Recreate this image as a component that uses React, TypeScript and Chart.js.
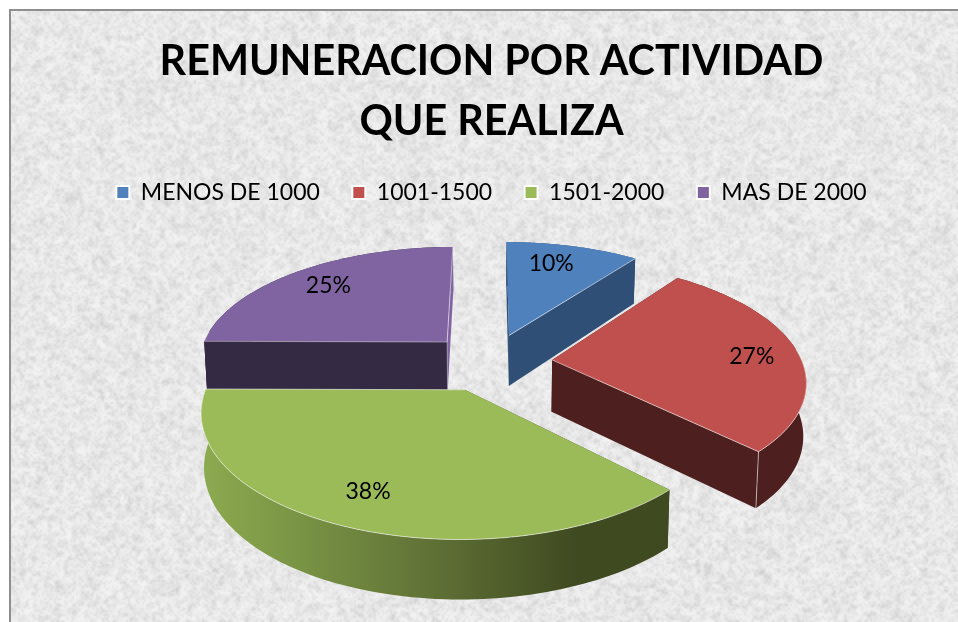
import React, { useEffect, useRef } from "react";
import { Chart, registerables } from "chart.js";

Chart.register(...registerables);

const titleLines = ["REMUNERACION POR ACTIVIDAD", "QUE REALIZA"];
const categories = ["MENOS DE 1000", "1001-1500", "1501-2000", "MAS DE 2000"];
const shares = [10.2, 27.3, 37.6, 24.9];
const topColors = ["#4f81bd", "#c0504d", "#9bbb59", "#8064a2"];
const wallColors = ["#2f4f77", "#4d1f1e", "#3f4a21", "#352a44"];

const W = 958;
const H = 622;
// ground-plane perspective used for the 3-D look
const CX = 490;
const CY = 362;
const SX = 250;
const SY = 116;
const PERSP = 0.159;
const EXPLODE = 0.25;
const LABEL_R = 0.78;
const labelNudgeX = [-9, 8, -5, 1];
const labelNudgeY = [0, 3, 0, 0];

function project(X: number, Y: number, low: boolean) {
  const s = 1 / (1 - PERSP * Y);
  let x = CX + SX * X * s;
  let y = CY + SY * Y * s;
  if (low) {
    x = CX + (x - CX) * 0.99;
    y += 52 + 6.5 * Y;
  }
  return [x, y];
}

function makeTexture(w: number, h: number) {
  const c = document.createElement("canvas");
  c.width = w;
  c.height = h;
  const g = c.getContext("2d")!;
  g.fillStyle = "#efefef";
  g.fillRect(0, 0, w, h);
  let seed = 12345;
  const next = () => {
    seed = (seed * 1664525 + 1013904223) >>> 0;
    return seed / 4294967296;
  };
  const layers = [
    [9, 14],
    [4, 30],
    [2, 24],
  ];
  for (const [scale, amp] of layers) {
    const sw = Math.ceil(w / scale);
    const sh = Math.ceil(h / scale);
    const sc = document.createElement("canvas");
    sc.width = sw;
    sc.height = sh;
    const sg = sc.getContext("2d")!;
    const img = sg.createImageData(sw, sh);
    for (let i = 0; i < sw * sh; i++) {
      const v = next() - 0.5;
      const u = v > 0 ? 255 : 90;
      img.data[i * 4] = u;
      img.data[i * 4 + 1] = u;
      img.data[i * 4 + 2] = u;
      img.data[i * 4 + 3] = Math.abs(v) * 2 * amp * (v > 0 ? 1.4 : 1);
    }
    sg.putImageData(img, 0, 0);
    g.imageSmoothingEnabled = true;
    g.imageSmoothingQuality = "high";
    g.drawImage(sc, 0, 0, sw * scale, sh * scale);
  }
  return c;
}

const backdrop = {
  id: "backdrop",
  beforeDraw(chart: any) {
    const ctx = chart.ctx;
    ctx.save();
    ctx.fillStyle = "#ffffff";
    ctx.fillRect(0, 0, W, H);
    ctx.drawImage(makeTexture(W, H), 11, 11, W - 11, H - 11, 11, 11, W - 11, H - 11);
    ctx.fillStyle = "#8e8e8e";
    ctx.fillRect(9, 9, W - 9, 2);
    ctx.fillRect(9, 9, 2, H - 9);
    ctx.restore();
  },
};

const pie3d = {
  id: "pie3d",
  beforeDatasetDraw() {
    return false;
  },
  afterDatasetsDraw(chart: any) {
    const ctx = chart.ctx;
    const arcs = chart.getDatasetMeta(0).data;
    const slices = arcs.map((arc: any, i: number) => {
      const t0 = arc.startAngle + Math.PI / 2;
      const t1 = arc.endAngle + Math.PI / 2;
      const mid = (t0 + t1) / 2;
      return {
        i,
        t0,
        t1,
        mid,
        ax: EXPLODE * Math.sin(mid),
        ay: -EXPLODE * Math.cos(mid),
      };
    });
    const order = [...slices].sort((a: any, b: any) => a.ay - b.ay);

    const poly = (pts: number[][]) => {
      ctx.beginPath();
      pts.forEach((p, k) => (k ? ctx.lineTo(p[0], p[1]) : ctx.moveTo(p[0], p[1])));
      ctx.closePath();
    };
    const line = (pts: number[][]) => {
      ctx.beginPath();
      pts.forEach((p, k) => (k ? ctx.lineTo(p[0], p[1]) : ctx.moveTo(p[0], p[1])));
      ctx.stroke();
    };

    ctx.save();
    ctx.lineJoin = "round";
    for (const s of order) {
      const rim = (t: number, low: boolean) =>
        project(s.ax + Math.sin(t), s.ay - Math.cos(t), low);
      const apex = (low: boolean) => project(s.ax, s.ay, low);
      const n = 90;
      const upper: number[][] = [];
      const lower: number[][] = [];
      const ts: number[] = [];
      for (let k = 0; k <= n; k++) {
        const t = s.t0 + ((s.t1 - s.t0) * k) / n;
        ts.push(t);
        upper.push(rim(t, false));
        lower.push(rim(t, true));
      }
      let wall: any = wallColors[s.i];
      if (s.i === 2) {
        const g = ctx.createLinearGradient(200, 0, 670, 0);
        g.addColorStop(0, "#8dab50");
        g.addColorStop(0.2, "#7a9545");
        g.addColorStop(0.5, "#5f7035");
        g.addColorStop(0.8, "#3f4a20");
        g.addColorStop(1, "#3f4a21");
        wall = g;
      }
      ctx.fillStyle = wall;
      poly([apex(false), upper[0], lower[0], apex(true)]);
      ctx.fill();
      poly([...upper, ...[...lower].reverse()]);
      ctx.fill();
      ctx.fillStyle = s.i === 3 ? topColors[3] : wall;
      poly([apex(false), upper[n], lower[n], apex(true)]);
      ctx.fill();
      if (s.i === 3) {
        ctx.fillStyle = wallColors[3];
        poly([apex(false), rim(s.t0, false), rim(s.t0, true), apex(true)]);
        ctx.fill();
      }

      ctx.fillStyle = topColors[s.i];
      poly([apex(false), ...upper]);
      ctx.fill();

      ctx.strokeStyle = "rgba(255,255,255,0.55)";
      ctx.lineWidth = 1;
      line([apex(false), upper[n]]);
      const front = upper.filter((_, k) => Math.cos(ts[k]) < 0.1);
      if (front.length > 1) line(front);
      if (s.i === 3) {
        ctx.strokeStyle = "rgba(190,190,200,0.6)";
        line([apex(false), upper[0]]);
        line([apex(false), apex(true)]);
      }
      if (s.i === 1) {
        line([upper[n], lower[n]]);
      }
    }

    ctx.fillStyle = "#000000";
    ctx.font = "23px Lato";
    ctx.textAlign = "center";
    ctx.textBaseline = "middle";
    for (const s of slices) {
      const p = project(
        s.ax + LABEL_R * Math.sin(s.mid),
        s.ay - LABEL_R * Math.cos(s.mid),
        false
      );
      ctx.fillText(
        `${Math.round(shares[s.i])}%`,
        p[0] + labelNudgeX[s.i],
        p[1] + labelNudgeY[s.i]
      );
    }
    ctx.restore();
  },
};

export default function App() {
  const ref = useRef<HTMLCanvasElement>(null);
  useEffect(() => {
    const chart = new Chart(ref.current!, {
      type: "pie",
      data: {
        labels: categories,
        datasets: [
          {
            data: shares,
            backgroundColor: topColors,
            borderColor: "#ffffff",
            borderWidth: 2,
          },
        ],
      },
      options: {
        responsive: false,
        animation: false,
        rotation: 0,
        layout: { padding: { left: 25, top: 32 } },
        plugins: {
          tooltip: { enabled: false },
          title: {
            display: true,
            text: titleLines,
            color: "#000000",
            font: { family: "Lato", size: 41.3, weight: "bold", lineHeight: 1.453 },
            padding: { top: 0, bottom: -3.5 },
          },
          legend: {
            position: "top",
            labels: {
              color: "#000000",
              font: { family: "Lato", size: 23 },
              boxWidth: 13,
              boxHeight: 13,
              padding: 32.5,
            },
          },
        },
      },
      plugins: [backdrop, pie3d],
    } as any);
    return () => chart.destroy();
  }, []);
  return (
    <canvas
      ref={ref}
      width={W}
      height={H}
      style={{ position: "absolute", left: 0, top: 0, display: "block" }}
    />
  );
}
